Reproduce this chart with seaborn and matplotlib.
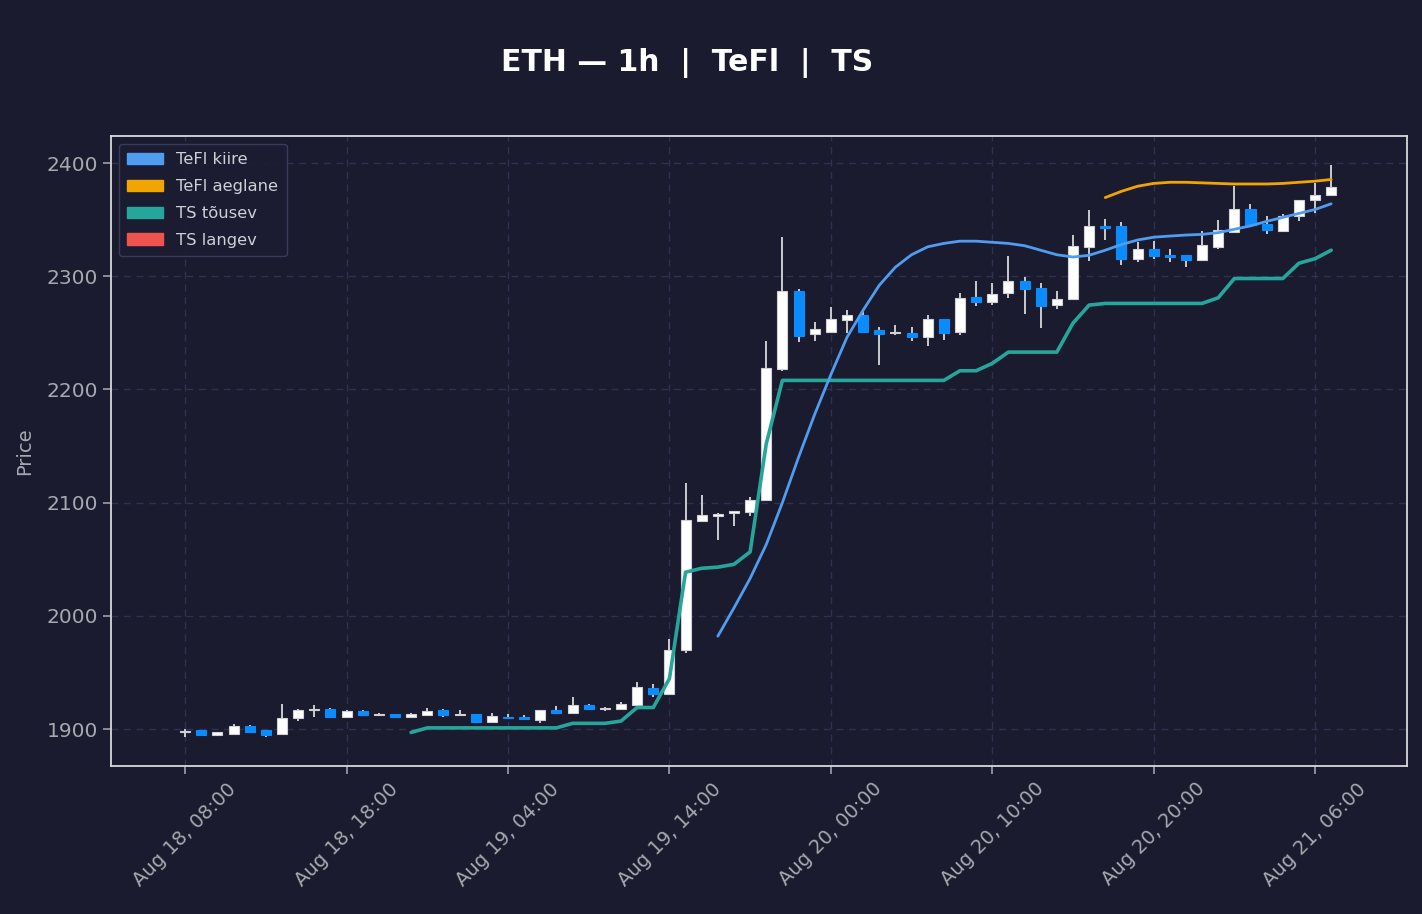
import numpy as np
import pandas as pd
import seaborn as sns
import matplotlib.pyplot as plt
from matplotlib.patches import Patch

# ---- data (hourly candles, Aug 18 08:00 -> Aug 21 07:00) ----
opens = [1897, 1899, 1894.5, 1896, 1902.5, 1899, 1896, 1909.5, 1916.5, 1918,
         1910.5, 1916, 1912, 1913, 1911, 1912, 1917, 1912, 1913, 1906,
         1911, 1910.5, 1908, 1916.5, 1914.5, 1921, 1917.5, 1918, 1921, 1936,
         1931, 1969.5, 2084, 2088.5, 2090.5, 2091.5, 2102, 2218, 2287, 2249,
         2251, 2261, 2266, 2252.5, 2249.5, 2249.5, 2246.5, 2262, 2250.5, 2281.5,
         2277, 2285, 2296, 2290, 2275, 2279.5, 2325.5, 2344.5, 2344, 2315.5,
         2324, 2318.5, 2318.5, 2314.5, 2326, 2339.5, 2359, 2346, 2340, 2353,
         2367, 2371.5]
highs = [1900, 1899.5, 1897.5, 1904, 1903.5, 1899.5, 1922, 1918, 1921, 1918.5,
         1917, 1916.5, 1914, 1913.5, 1914, 1919, 1917.5, 1917, 1913.5, 1914.5,
         1913, 1912, 1917, 1920, 1928.5, 1922.5, 1919.5, 1924, 1941.5, 1939.5,
         1979.5, 2117.5, 2106.5, 2090.5, 2093, 2105, 2243, 2335, 2289, 2260,
         2272.5, 2270, 2269.5, 2255, 2257, 2255, 2265.5, 2262.5, 2285, 2296,
         2294, 2318, 2299.5, 2294, 2287, 2336.5, 2358.5, 2350.5, 2347.5, 2330,
         2331.5, 2324.5, 2319, 2340, 2349.5, 2379.5, 2364, 2353, 2355, 2367.5,
         2382, 2398]
lows = [1893, 1894, 1894, 1896, 1897, 1892.5, 1895.5, 1907.5, 1911, 1910,
        1910, 1911.5, 1911.5, 1910.5, 1910.5, 1911.5, 1911, 1911.5, 1906, 1905.5,
        1909, 1908, 1905.5, 1914, 1914, 1917, 1916, 1917.5, 1920.5, 1928.5,
        1930, 1967, 2082.5, 2067, 2079.5, 2088.5, 2101, 2216.5, 2241.5, 2243,
        2251, 2249.5, 2249.5, 2222, 2248, 2242.5, 2238, 2243.5, 2248, 2273.5,
        2274.5, 2281, 2266.5, 2254.5, 2271, 2279, 2313.5, 2332, 2310, 2313,
        2315, 2313, 2308.5, 2314, 2324.5, 2338, 2345, 2337, 2339.5, 2349,
        2355.5, 2370.5]
closes = [1898, 1895, 1897, 1902.5, 1897.5, 1895, 1910, 1916.5, 1917.5, 1910.5,
          1916, 1912, 1913, 1911, 1913, 1916, 1912, 1913, 1906.5, 1911.5,
          1909.5, 1908.5, 1916.5, 1914.5, 1921, 1917.5, 1919, 1922, 1937, 1931,
          1969.5, 2085, 2089.5, 2090, 2092.5, 2102, 2218.5, 2287, 2247.5, 2253,
          2262, 2266, 2251, 2249, 2250.5, 2246.5, 2262, 2249.5, 2280.5, 2277,
          2284, 2296, 2288.5, 2274, 2279.5, 2327, 2344, 2343, 2315.5, 2324,
          2317.5, 2317, 2314.5, 2327.5, 2340.5, 2359, 2345, 2340.5, 2353.5, 2367,
          2371.5, 2378.5]

# indicator lines (start index, values)
ts_up_start = 14
ts_up = [1897, 1901, 1901, 1901, 1901, 1901, 1901, 1901, 1901, 1901,
         1905, 1905, 1905, 1907, 1919, 1919, 1944.5, 2038.5, 2042, 2043,
         2045.5, 2056.5, 2152, 2208, 2208, 2208, 2208, 2208, 2208, 2208,
         2208, 2208, 2208, 2208, 2216.5, 2216.5, 2223, 2233, 2233, 2233,
         2233, 2258.5, 2274.5, 2276, 2276, 2276, 2276, 2276, 2276, 2276,
         2281, 2298, 2298, 2298, 2298, 2311.5, 2315.5, 2323]
fast_start = 33
tefl_fast = [1982, 2007, 2033, 2063, 2100, 2140, 2178, 2213, 2246, 2270,
             2292, 2308, 2319, 2326, 2329, 2331, 2331, 2330, 2329, 2327,
             2323, 2319, 2317, 2318.5, 2323, 2328, 2332, 2334.5, 2335.5, 2336.4,
             2337, 2338.5, 2341.5, 2344.5, 2348.5, 2352, 2355.5, 2359, 2364]
slow_start = 57
tefl_slow = [2369.5, 2375, 2379.5, 2382, 2383, 2383, 2382.5, 2382, 2381.5, 2381.5,
             2381.5, 2382, 2383, 2384, 2385.5]

tick_pos = [0, 10, 20, 30, 40, 50, 60, 70]
tick_labels = ["Aug 18, 08:00", "Aug 18, 18:00", "Aug 19, 04:00", "Aug 19, 14:00",
               "Aug 20, 00:00", "Aug 20, 10:00", "Aug 20, 20:00", "Aug 21, 06:00"]

BG = "#1a1b2e"
UP = "#ffffff"
DOWN = "#0a8cff"
C_FAST = "#4f9cf0"
C_SLOW = "#f0a500"
C_TSUP = "#26a69a"
C_TSDN = "#ef5350"
TXT = "#a8a8b0"

sns.set_theme(style="dark", rc={
    "figure.facecolor": BG,
    "axes.facecolor": BG,
    "axes.edgecolor": "#d8d8dc",
    "axes.linewidth": 1.3,
    "grid.color": "#2f3152",
    "grid.linestyle": (0, (5, 4)),
    "grid.linewidth": 1.0,
    "xtick.color": TXT,
    "ytick.color": TXT,
    "xtick.bottom": True,
    "ytick.left": True,
    "axes.labelcolor": TXT,
})
plt.rcParams['font.family'] = ['DejaVu Sans']

df = pd.DataFrame({"open": opens, "high": highs, "low": lows, "close": closes})
df["x"] = np.arange(len(df))
up = df["close"] >= df["open"]

fig = plt.figure(figsize=(14.22, 9.14), dpi=100)
ax = fig.add_axes([0.078, 0.1619, 0.9115, 0.6893])

# wicks
ax.vlines(df["x"], df["low"], df["high"], color="#e8e8ec", linewidth=1.2, zorder=2)
# bodies
body_h = (df["close"] - df["open"]).abs().clip(lower=0.8)
body_b = df[["open", "close"]].min(axis=1)
ax.bar(df["x"][up], body_h[up], bottom=body_b[up], width=0.62,
       color=UP, edgecolor="#d0d0d6", linewidth=0.8, zorder=3)
ax.bar(df["x"][~up], body_h[~up], bottom=body_b[~up], width=0.62,
       color=DOWN, edgecolor=DOWN, linewidth=0.8, zorder=3)

sns.lineplot(x=np.arange(ts_up_start, ts_up_start + len(ts_up)), y=ts_up,
             ax=ax, color=C_TSUP, linewidth=2.6, zorder=4)
sns.lineplot(x=np.arange(fast_start, fast_start + len(tefl_fast)), y=tefl_fast,
             ax=ax, color=C_FAST, linewidth=2.0, zorder=5)
sns.lineplot(x=np.arange(slow_start, slow_start + len(tefl_slow)), y=tefl_slow,
             ax=ax, color=C_SLOW, linewidth=2.0, zorder=5)

ax.set_xlim(-4.6, 75.7)
ax.set_ylim(1867.3, 2423.9)
ax.set_yticks([1900, 2000, 2100, 2200, 2300, 2400])
ax.set_xticks(tick_pos)
ax.set_xticklabels(tick_labels, rotation=45, fontsize=14)
ax.tick_params(axis="y", labelsize=14.5)
ax.tick_params(length=6, width=1.2, color="#a0a0a8")
ax.grid(True)
ax.set_xlabel("")
ax.set_ylabel("Price", fontsize=14, color=TXT, labelpad=9)

handles = [Patch(color=C_FAST, label="TeFl kiire"),
           Patch(color=C_SLOW, label="TeFl aeglane"),
           Patch(color=C_TSUP, label="TS tõusev"),
           Patch(color=C_TSDN, label="TS langev")]
leg = ax.legend(handles=handles, loc="upper left", fontsize=11.8,
                facecolor="#1c1d33", edgecolor="#3b3d5c", framealpha=0.95,
                labelcolor="#cfcfd6", borderpad=0.5, labelspacing=0.72,
                handlelength=2.2, handletextpad=0.8, borderaxespad=0.5)

fig.text(0.483, 0.931, "ETH — 1h  |  TeFl  |  TS", ha="center", va="center",
         fontsize=21.5, fontweight="bold", color="white")

fig.savefig("out.png", dpi=100, facecolor=BG)
